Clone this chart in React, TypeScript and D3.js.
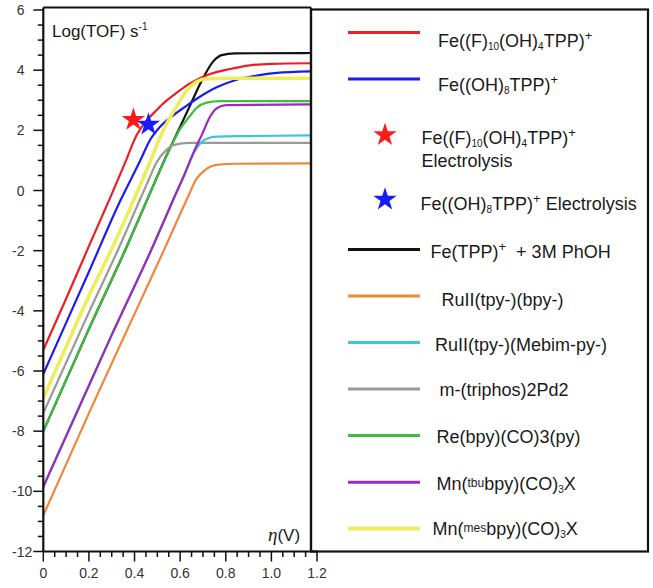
import React from "react";
import * as d3 from "d3";

// ---------- data ----------
const etaTickValues = [0, 0.2, 0.4, 0.6, 0.8, 1.0, 1.2];
const etaTickLabels = ["0", "0.2", "0.4", "0.6", "0.8", "1.0", "1.2"];
const logTickValues = [6, 4, 2, 0, -2, -4, -6, -8, -10, -12];
const logTickLabels = ["6", "4", "2", "0", "-2", "-4", "-6", "-8", "-10", "-12"];

// [eta (V), log(TOF)]
const feF10OH4 = [[0, -5.3], [0.1, -3.6], [0.2, -1.85], [0.3, -0.12], [0.36, 0.95], [0.41, 1.85], [0.45, 2.3], [0.49, 2.62], [0.53, 2.92], [0.58, 3.22], [0.643, 3.56], [0.731, 3.87], [0.819, 4.04], [0.906, 4.16], [1.0, 4.21], [1.17, 4.23]];
const feOH8 = [[0, -6.1], [0.1, -4.4], [0.2, -2.7], [0.337, -0.35], [0.424, 0.98], [0.468, 1.68], [0.512, 2.12], [0.57, 2.5], [0.629, 2.82], [0.673, 3.05], [0.76, 3.43], [0.848, 3.68], [0.936, 3.82], [1.024, 3.91], [1.17, 3.96]];
const feTPP = [[0, -8.0], [0.2, -4.6], [0.368, -1.83], [0.454, -0.33], [0.55, 1.32], [0.6, 2.12], [0.643, 2.82], [0.702, 3.76], [0.746, 4.3], [0.782, 4.5], [0.84, 4.56], [1.17, 4.57]];
const ruBpy = [[0, -10.8], [0.212, -7.2], [0.4, -4.1], [0.534, -1.9], [0.629, -0.3], [0.673, 0.4], [0.7, 0.62], [0.72, 0.74], [0.76, 0.85], [0.85, 0.89], [1.17, 0.9]];
const ruMebim = [[0, -9.85], [0.161, -7.14], [0.3, -4.8], [0.482, -1.83], [0.57, -0.3], [0.62, 0.55], [0.66, 1.25], [0.69, 1.58], [0.72, 1.73], [0.76, 1.79], [0.9, 1.81], [1.17, 1.83]];
const triphosPd = [[0, -7.4], [0.2, -4.05], [0.336, -1.83], [0.424, -0.3], [0.46, 0.32], [0.497, 0.94], [0.541, 1.36], [0.57, 1.51], [0.643, 1.58], [1.17, 1.58]];
const reBpy = [[0, -8.0], [0.2, -4.6], [0.368, -1.83], [0.454, -0.33], [0.55, 1.3], [0.6, 2.05], [0.64, 2.45], [0.673, 2.75], [0.717, 2.92], [0.775, 2.97], [1.17, 2.97]];
const mnTbu = [[0, -9.85], [0.161, -7.14], [0.3, -4.8], [0.482, -1.83], [0.57, -0.3], [0.62, 0.55], [0.658, 1.25], [0.695, 1.85], [0.731, 2.45], [0.76, 2.73], [0.8, 2.84], [1.17, 2.86]];
const mnMes = [[0, -6.9], [0.1, -5.2], [0.2, -3.5], [0.307, -1.83], [0.402, -0.22], [0.46, 0.8], [0.526, 2.0], [0.585, 2.8], [0.629, 3.32], [0.673, 3.62], [0.72, 3.72], [0.8, 3.73], [1.17, 3.73]];

const starFeF10 = [0.395, 2.35];
const starFeOH8 = [0.461, 2.19];

// ---------- styles ----------
const C = {
  red: "#ee1c24",
  blue: "#1c1cf0",
  black: "#111111",
  orange: "#f0873a",
  cyan: "#3cc6da",
  gray: "#9a9a9a",
  green: "#3cbe3c",
  purple: "#9a2cb8",
  yellow: "#eeee5c",
};

const curves = [
  { data: feTPP, color: C.black, w: 2.2 },
  { data: reBpy, color: C.green, w: 2.2 },
  { data: triphosPd, color: C.gray, w: 2.2 },
  { data: ruBpy, color: C.orange, w: 2.2 },
  { data: ruMebim, color: C.cyan, w: 2.2 },
  { data: mnTbu, color: C.purple, w: 2.2 },
  { data: feOH8, color: C.blue, w: 2.2 },
  { data: feF10OH4, color: C.red, w: 2.2 },
  { data: mnMes, color: C.yellow, w: 3.6 },
];

type Seg = { t: string; k?: "sub" | "sup" | "small" };

function Rich({ x, y, segs, size = 18 }: { x: number; y: number; segs: Seg[]; size?: number }) {
  let prev = 0;
  return (
    <text x={x} y={y} fontSize={size} fill="#1a1a1a" style={{ whiteSpace: "pre" }}
      fontFamily="'Liberation Sans', Arial, sans-serif">
      {segs.map((s, i) => {
        const shift = s.k === "sub" ? 3 : s.k === "sup" ? -7 : s.k === "small" ? -3 : 0;
        const fs = s.k === "sub" ? 10 : s.k === "sup" ? 13 : s.k === "small" ? 12 : size;
        const dy = shift - prev;
        prev = shift;
        return (
          <tspan key={i} dy={dy} fontSize={fs}>{s.t}</tspan>
        );
      })}
    </text>
  );
}

export default function App() {
  const x = d3.scaleLinear().domain([0, 1.2]).range([43.3, 317]);
  const y = d3.scaleLinear().domain([-12, 6]).range([551.5, 10]);
  const line = d3.line<number[]>().x((d) => x(d[0])).y((d) => y(d[1])).curve(d3.curveMonotoneX);
  const star = d3.symbol().type(d3.symbolStar).size(170)();

  const yMinor = d3.range(-12, 6.001, 0.5).filter((v) => Math.abs(v % 2) > 1e-6);
  const xMinor = d3.range(0, 1.2001, 0.05).filter((v) => Math.abs(v / 0.2 - Math.round(v / 0.2)) > 1e-6);

  const plotL = 43.3, plotR = 311, plotT = 7.5, plotB = 551.5;
  const legL = 311, legR = 648, legT = 9.5, legB = 551.5;
  const lx1 = 348, lx2 = 420;

  const legendLines: { color: string; ly: number; tx: number; ty: number; segs: Seg[] }[] = [
    { color: C.red, ly: 32.5, tx: 438, ty: 46.5, segs: [{ t: "Fe((F)" }, { t: "10", k: "sub" }, { t: "(OH)" }, { t: "4", k: "sub" }, { t: "TPP)" }, { t: "+", k: "sup" }] },
    { color: C.blue, ly: 79, tx: 438, ty: 90.5, segs: [{ t: "Fe((OH)" }, { t: "8", k: "sub" }, { t: "TPP)" }, { t: "+", k: "sup" }] },
    { color: C.black, ly: 249.5, tx: 430.5, ty: 258, segs: [{ t: "Fe(TPP)" }, { t: "+", k: "sup" }, { t: "  + 3M PhOH" }] },
    { color: C.orange, ly: 296, tx: 441.5, ty: 306, segs: [{ t: "RuII(tpy-)(bpy-)" }] },
    { color: C.cyan, ly: 342.5, tx: 435, ty: 350.5, segs: [{ t: "RuII(tpy-)(Mebim-py-)" }] },
    { color: C.gray, ly: 389, tx: 439.5, ty: 395.5, segs: [{ t: "m-(triphos)2Pd2" }] },
    { color: C.green, ly: 435.5, tx: 436.5, ty: 443, segs: [{ t: "Re(bpy)(CO)3(py)" }] },
    { color: C.purple, ly: 482.3, tx: 436.5, ty: 490, segs: [{ t: "Mn(" }, { t: "tbu", k: "small" }, { t: "bpy)(CO)" }, { t: "3", k: "sub" }, { t: "X" }] },
    { color: C.yellow, ly: 528.5, tx: 432.5, ty: 535, segs: [{ t: "Mn(" }, { t: "mes", k: "small" }, { t: "bpy)(CO)" }, { t: "3", k: "sub" }, { t: "X" }] },
  ];

  return (
    <svg width={653} height={588} style={{ position: "absolute", left: 0, top: 0, background: "#fff" }}
      fontFamily="'Liberation Sans', Arial, sans-serif">
      <defs>
        <clipPath id="plotClip">
          <rect x={plotL} y={plotT} width={plotR - plotL} height={plotB - plotT} />
        </clipPath>
      </defs>
      <rect x={0} y={0} width={653} height={588} fill="#fff" />

      {/* curves */}
      <g clipPath="url(#plotClip)">
        {curves.map((c, i) => (
          <path key={i} d={line(c.data as number[][]) || ""} fill="none" stroke={c.color} strokeWidth={c.w}
            strokeLinejoin="round" strokeLinecap="round" />
        ))}
      </g>
      {/* electrolysis stars */}
      <path d={star} transform={`translate(${x(starFeF10[0])},${y(starFeF10[1])})`} fill="#ff1a1a" />
      <path d={star} transform={`translate(${x(starFeOH8[0])},${y(starFeOH8[1])})`} fill="#1a1aff" />

      {/* plot frame */}
      <line x1={plotL} x2={plotR} y1={plotT} y2={plotT} stroke="#111" strokeWidth={2} />
      <line x1={plotR} x2={plotR} y1={plotT} y2={plotB} stroke="#111" strokeWidth={2.2} />
      <line x1={plotL} x2={plotL} y1={plotT} y2={plotB} stroke="#111" strokeWidth={2.2} />
      <line x1={plotL} x2={x(1.2) + 1} y1={plotB} y2={plotB} stroke="#111" strokeWidth={2.2} />

      {/* y ticks */}
      {logTickValues.map((v, i) => (
        <g key={"yt" + i}>
          <line x1={plotL - 10} x2={plotL} y1={y(v)} y2={y(v)} stroke="#111" strokeWidth={1.5} />
          <text x={v < 0 ? 12 : 16.7} y={y(v) + 5} fontSize={14} fill="#333">{logTickLabels[i]}</text>
        </g>
      ))}
      {yMinor.map((v, i) => (
        <line key={"ym" + i} x1={plotL - 5.5} x2={plotL} y1={y(v)} y2={y(v)} stroke="#111" strokeWidth={1.5} />
      ))}
      {/* x ticks */}
      {etaTickValues.map((v, i) => (
        <g key={"xt" + i}>
          <line x1={x(v)} x2={x(v)} y1={plotB} y2={plotB + 10} stroke="#111" strokeWidth={1.5} />
          <text x={x(v)} y={578} fontSize={14} fill="#333" textAnchor="middle">{etaTickLabels[i]}</text>
        </g>
      ))}
      {xMinor.map((v, i) => (
        <line key={"xm" + i} x1={x(v)} x2={x(v)} y1={plotB} y2={plotB + 5.5} stroke="#111" strokeWidth={1.5} />
      ))}

      {/* axis titles */}
      <text x={52} y={37} fontSize={17} fill="#1a1a1a">
        Log(TOF) s<tspan dy={-7} fontSize={10}>-1</tspan>
      </text>
      <text x={268} y={540.5} fontSize={17} fill="#1a1a1a">
        <tspan fontFamily="'Liberation Serif', 'Times New Roman', serif" fontStyle="italic" fontSize={19}>η</tspan>
        <tspan>(V)</tspan>
      </text>

      {/* legend */}
      <rect x={legL} y={legT} width={legR - legL} height={legB - legT} fill="none" stroke="#111" strokeWidth={2.2} />
      {legendLines.map((r, i) => (
        <g key={"lg" + i}>
          <line x1={lx1} x2={lx2} y1={r.ly} y2={r.ly} stroke={r.color} strokeWidth={r.color === C.yellow ? 4 : 3} />
          <Rich x={r.tx} y={r.ty} segs={r.segs} />
        </g>
      ))}
      <path d={star} transform="translate(385,135)" fill="#ff1a1a" />
      <Rich x={421.5} y={144} segs={[{ t: "Fe((F)" }, { t: "10", k: "sub" }, { t: "(OH)" }, { t: "4", k: "sub" }, { t: "TPP)" }, { t: "+", k: "sup" }]} />
      <Rich x={421.5} y={166.5} segs={[{ t: "Electrolysis" }]} />
      <path d={star} transform="translate(385,199.5)" fill="#1a1aff" />
      <Rich x={420.5} y={210} segs={[{ t: "Fe((OH)" }, { t: "8", k: "sub" }, { t: "TPP)" }, { t: "+", k: "sup" }, { t: " Electrolysis" }]} />
    </svg>
  );
}
